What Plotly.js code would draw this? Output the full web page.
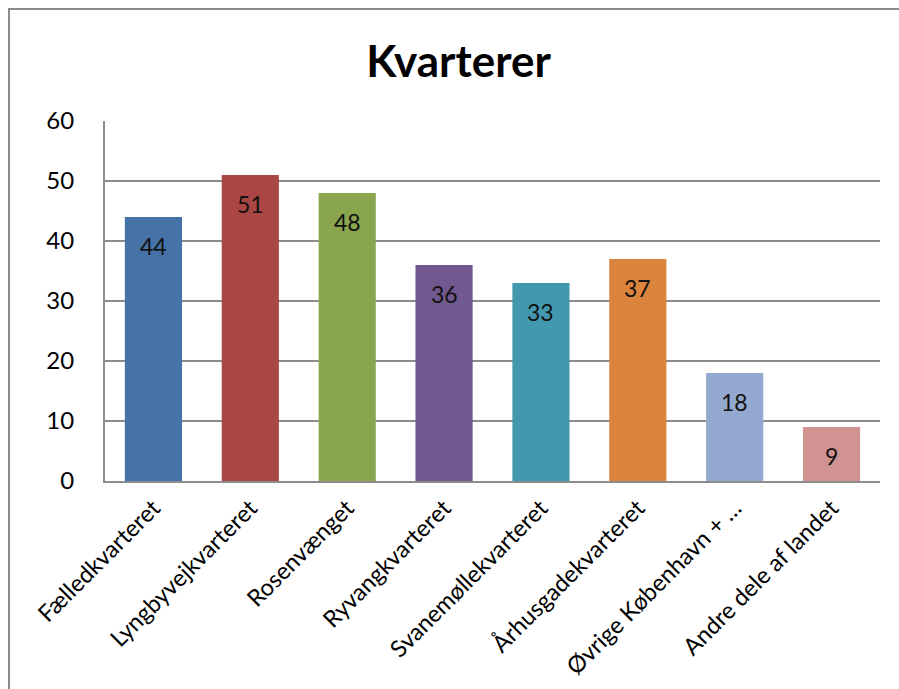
<!DOCTYPE html>
<html>
<head>
<meta charset="utf-8">
<script src="https://cdn.plot.ly/plotly-3.0.1.min.js"></script>
<style>
html,body{margin:0;padding:0;overflow:hidden;background:#fff;}
#chart{width:899px;height:689px;position:absolute;left:0;top:0;}
#frame{position:absolute;left:8px;top:8px;width:1000px;height:1000px;border-left:2px solid #8c8c8c;border-top:2px solid #8c8c8c;pointer-events:none;}
</style>
</head>
<body>
<div id="chart"></div>
<div id="frame"></div>
<script>
const categories = ["Fælledkvarteret","Lyngbyvejkvarteret","Rosenvænget","Ryvangkvarteret","Svanemøllekvarteret","Århusgadekvarteret","Øvrige København + …","Andre dele af landet"];
const values = [44, 51, 48, 36, 33, 37, 18, 9];
const colors = ["#4572A7","#AA4643","#89A54E","#71588F","#4198AF","#DB843D","#93A9CF","#D19392"];
const yTicks = [0,10,20,30,40,50,60];

const font = "Lato, Calibri, 'Open Sans', sans-serif";

const trace = {
  type: "bar",
  x: categories,
  y: values,
  marker: {color: colors},
  hoverinfo: "none"
};

const annotations = categories.map((c, i) => ({
  x: c, y: values[i], xref: "x", yref: "y",
  text: String(values[i]),
  showarrow: false,
  yanchor: "top",
  yshift: -13,
  font: {family: font, size: 23, color: "#111"}
}));

const layout = {
  width: 899, height: 689,
  margin: {l: 105, r: 19, t: 121, b: 208},
  paper_bgcolor: "#fff",
  plot_bgcolor: "#fff",
  bargap: 0.41,
  showlegend: false,
  title: {text: "<b>Kvarterer</b>", x: 0.51, xanchor: "center", y: 0.91, yanchor: "middle",
          font: {family: font, size: 44, color: "#000"}},
  xaxis: {
    tickangle: -45,
    tickfont: {family: font, size: 23.5, color: "#000"},
    showline: true, linecolor: "#8c8c8c", linewidth: 2,
    showgrid: false, ticks: "", ticklen: 0,
    ticklabelstandoff: 2,
    automargin: false
  },
  yaxis: {
    range: [0, 60],
    tickvals: yTicks,
    tickfont: {family: font, size: 24, color: "#000"},
    showgrid: true, gridcolor: "#8c8c8c", gridwidth: 2,
    showline: true, linecolor: "#8c8c8c", linewidth: 2,
    zeroline: false,
    ticks: "", ticklabelstandoff: 24,
    automargin: false
  },
  annotations: annotations
};

Plotly.newPlot("chart", [trace], layout, {displayModeBar: false, staticPlot: true});
</script>
</body>
</html>
